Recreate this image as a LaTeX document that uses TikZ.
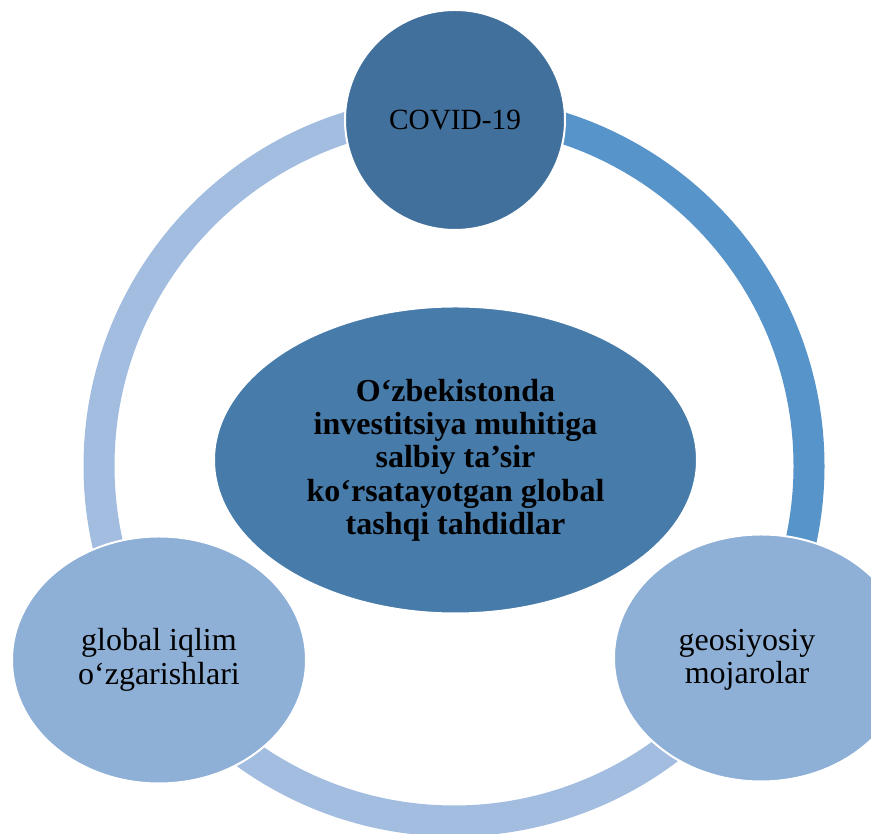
\documentclass[tikz,border=0pt]{standalone}
\usepackage{fontspec}
\setmainfont{Liberation Serif}
\usetikzlibrary{shapes.geometric}

\definecolor{covblue}{HTML}{41709C}
\definecolor{coreblue}{HTML}{477BAA}
\definecolor{arcblue}{HTML}{5794CA}
\definecolor{arclight}{HTML}{A2BDDF}
\definecolor{bubblefill}{HTML}{8EAFD6}

\tikzset{
	band/.style={line width=23.25pt},
	bubble/.style={draw=white, line width=1.5pt, inner sep=0pt, align=center, font=\fontsize{24}{25}\selectfont},
}

\begin{document}
\begin{tikzpicture}[x=0.75pt,y=0.75pt]
			\useasboundingbox (0,0) rectangle (871,834);
			\clip (0,0) rectangle (871,834);

			\coordinate (hub) at (454,368);

			% ring round the middle
			\draw[band, arcblue] ([shift={(90:266.25pt)}]hub) arc[start angle=90, end angle=-32, radius=266.25pt];
			\draw[band, arclight] ([shift={(90:266.25pt)}]hub) arc[start angle=90, end angle=213, radius=266.25pt];
			\draw[band, arclight] ([shift={(213:266.25pt)}]hub) arc[start angle=213, end angle=328, radius=266.25pt];

			\node[bubble, ellipse, fill=coreblue, minimum width=362.25pt, minimum height=230.25pt, font=\fontsize{24}{25}\selectfont\bfseries] (core) at (455.5,374) {O‘zbekistonda\\investitsiya muhitiga\\salbiy ta’sir\\ko‘rsatayotgan global\\tashqi tahdidlar};

			\node[bubble, circle, fill=covblue, minimum size=165pt, font=\fontsize{22}{25}\selectfont] (cov) at (455,714) {COVID-19};
			\node[bubble, ellipse, fill=bubblefill, minimum width=220.5pt, minimum height=185.25pt] (clim) at (159,174) {global iqlim\\o‘zgarishlari};
			\node[bubble, ellipse, fill=bubblefill, minimum width=220.5pt, minimum height=185.25pt] (geo) at (761,176) {};
			\node[bubble, draw=none] (geotext) at ([xshift=-10.5pt, yshift=-1.5pt]geo.center) {geosiyosiy\\mojarolar};
		\end{tikzpicture}
\end{document}
